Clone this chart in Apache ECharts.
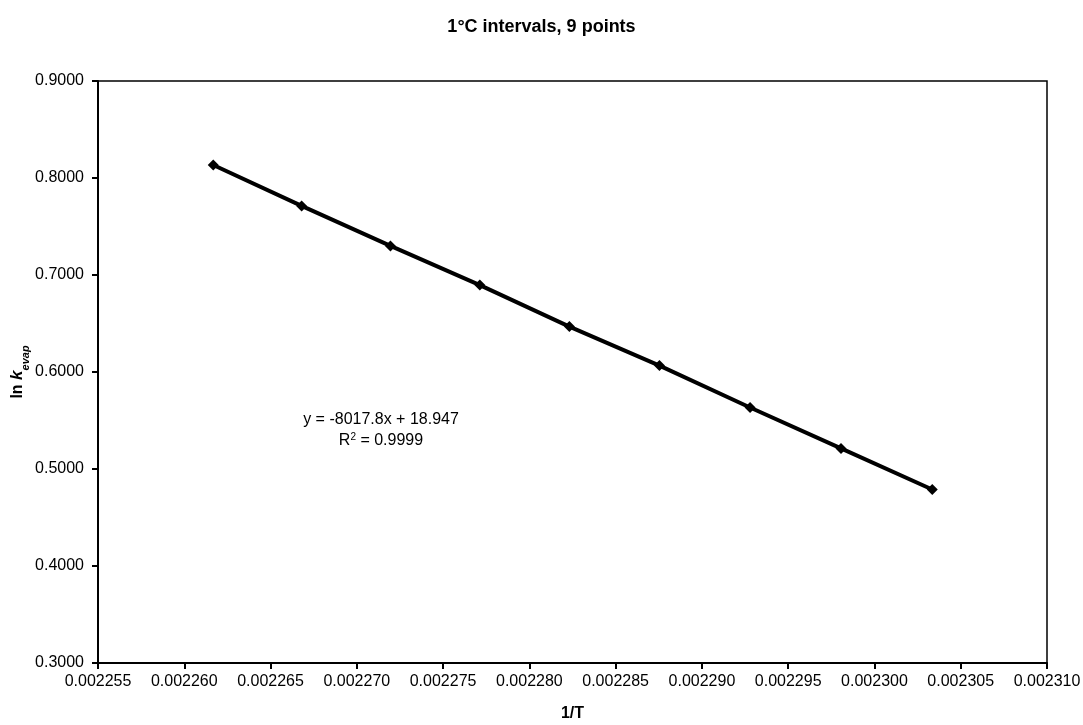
<!DOCTYPE html>
<html>
<head>
<meta charset="utf-8">
<script src="https://cdn.jsdelivr.net/npm/echarts@6/dist/echarts.min.js"></script>
<style>
  html, body { margin: 0; padding: 0; background: #ffffff; }
  #chart { width: 1083px; height: 725px; }
</style>
</head>
<body>
<div id="chart"></div>
<script>
// Reciprocal temperature (1/T, K^-1) at 1 °C steps
const invT = [0.00226168, 0.00226680, 0.00227195, 0.00227713, 0.00228232,
              0.00228754, 0.00229279, 0.00229806, 0.00230335];
// Natural log of the evaporation rate constant at each temperature
const lnKevap = [0.8134, 0.7712, 0.7300, 0.6896, 0.6468,
                 0.6066, 0.5634, 0.5212, 0.4789];

const titleText = '1°C intervals, 9 points';
const fitLine1 = 'y = -8017.8x + 18.947';
const fitR2 = '0.9999';
const xName = '1/T';

const xMin = 0.002255, xMax = 0.002310, xStep = 0.000005;
const yMin = 0.3, yMax = 0.9, yStep = 0.1;

const points = invT.map((x, i) => [x, lnKevap[i]]);
const font = '"Liberation Sans", Arial, sans-serif';

const chart = echarts.init(document.getElementById('chart'), null, { renderer: 'canvas' });
chart.setOption({
  animation: false,
  backgroundColor: '#ffffff',
  textStyle: { fontFamily: font, color: '#000' },
  title: {
    text: titleText,
    left: 'center',
    top: 13,
    textStyle: { fontFamily: font, fontSize: 18, fontWeight: 'bold', color: '#000' }
  },
  grid: {
    left: 98, right: 36, top: 81, bottom: 62,
    containLabel: false,
    outerBoundsMode: 'none',
    show: true, borderColor: '#000', borderWidth: 1.5, backgroundColor: '#fff'
  },
  xAxis: {
    type: 'value',
    min: xMin, max: xMax, interval: xStep,
    name: xName,
    nameLocation: 'middle',
    nameGap: 43,
    nameTextStyle: { fontFamily: font, fontSize: 16, fontWeight: 'bold', color: '#000' },
    axisLine: { show: true, lineStyle: { color: '#000', width: 2 } },
    axisTick: { show: true, inside: false, length: 6, lineStyle: { color: '#000', width: 2 } },
    axisLabel: {
      margin: 11, fontFamily: font, fontSize: 16, color: '#000',
      formatter: v => v.toFixed(6)
    },
    splitLine: { show: false }
  },
  yAxis: {
    type: 'value',
    min: yMin, max: yMax, interval: yStep,
    axisLine: { show: true, lineStyle: { color: '#000', width: 2 } },
    axisTick: { show: true, inside: false, length: 6, lineStyle: { color: '#000', width: 2 } },
    axisLabel: {
      margin: 14, fontFamily: font, fontSize: 16, color: '#000',
      formatter: v => v.toFixed(4)
    },
    splitLine: { show: false }
  },
  graphic: [{
    // y-axis title: ln k_evap, reading bottom to top
    type: 'text',
    x: 16,
    y: 372,
    rotation: Math.PI / 2,
    style: {
      text: '{n|ln }{k|k}{s|evap}',
      align: 'center',
      verticalAlign: 'middle',
      rich: {
        n: { fontFamily: font, fontSize: 16, fontWeight: 'bold', fill: '#000', verticalAlign: 'bottom', lineHeight: 20 },
        k: { fontFamily: font, fontSize: 17, fontWeight: 'bold', fontStyle: 'italic', fill: '#000', verticalAlign: 'bottom', lineHeight: 20 },
        s: { fontFamily: font, fontSize: 11, fontWeight: 'bold', fontStyle: 'italic', fill: '#000', verticalAlign: 'bottom', lineHeight: 14, padding: [0, 0, -5, 0] }
      }
    }
  }, {
    type: 'text',
    x: 381,
    y: 412,
    style: {
      text: fitLine1,
      align: 'center',
      verticalAlign: 'top',
      fontFamily: font, fontSize: 16, fill: '#000'
    }
  }, {
    type: 'text',
    x: 381,
    y: 427,
    style: {
      text: '{b|R}{c|2}{b| = ' + fitR2 + '}',
      align: 'center',
      verticalAlign: 'top',
      rich: {
        b: { fontFamily: font, fontSize: 16, fill: '#000', lineHeight: 22, verticalAlign: 'bottom' },
        c: { fontFamily: font, fontSize: 10, fill: '#000', lineHeight: 22, verticalAlign: 'bottom', padding: [0, 0, 7, 0] }
      }
    }
  }],
  series: [{
    type: 'line',
    data: points,
    symbol: 'diamond',
    symbolSize: 11,
    showSymbol: true,
    lineStyle: { color: '#000', width: 4 },
    itemStyle: { color: '#000' },
    z: 3
  }]
});
</script>
</body>
</html>
